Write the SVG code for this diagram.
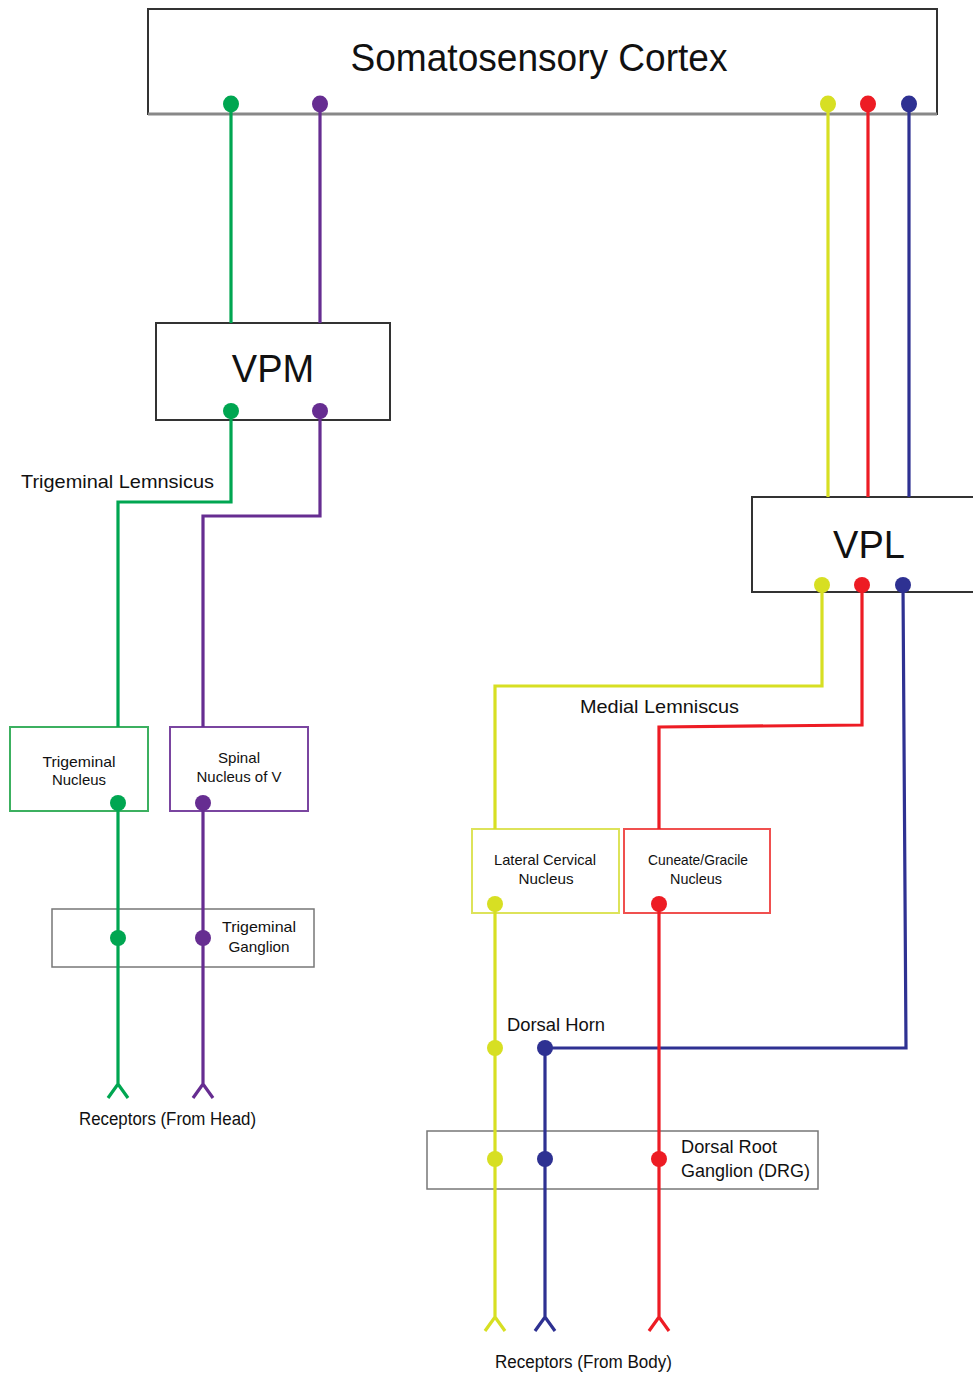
<svg xmlns="http://www.w3.org/2000/svg" width="973" height="1373" viewBox="0 0 973 1373">
<style>
.box{fill:#fff;stroke:#333;stroke-width:2}
.gbox{fill:none;stroke:#777;stroke-width:1.5}
.t{font-family:"Liberation Sans",Arial,sans-serif;fill:#111}
.big{font-size:38px;text-anchor:middle}
.lab{font-size:19px}
.sm{font-size:15px;text-anchor:middle}
.w{fill:none;stroke-width:3.2;stroke-linejoin:miter}
.g{stroke:#00a651}.p{stroke:#662d91}.y{stroke:#d7df23}.r{stroke:#ed1c24}.b{stroke:#2e3192}
.dg{fill:#00a651}.dp{fill:#662d91}.dy{fill:#d7df23}.dr{fill:#ed1c24}.db{fill:#2e3192}
</style>
<rect width="973" height="1373" fill="#fff"/>
<g id="cortex">
<rect class="box" x="148" y="9" width="789" height="105"/>
<line x1="148" y1="114" x2="937" y2="114" stroke="#888" stroke-width="3"/>
<text class="t big" x="539" y="71" textLength="377" lengthAdjust="spacingAndGlyphs">Somatosensory Cortex</text>
</g>
<g id="vpm">
<rect class="box" x="156" y="323" width="234" height="97"/>
<text class="t big" x="273" y="382">VPM</text>
</g>
<g id="vpl">
<rect class="box" x="752" y="497" width="230" height="95"/>
<text class="t big" x="869" y="558">VPL</text>
</g>
<g id="trigeminal-nucleus">
<rect fill="#fff" stroke="#3cb060" stroke-width="2" x="10" y="727" width="138" height="84"/>
<text class="t sm" x="79" y="767" textLength="73" lengthAdjust="spacingAndGlyphs">Trigeminal</text>
<text class="t sm" x="79" y="785" textLength="54" lengthAdjust="spacingAndGlyphs">Nucleus</text>
</g>
<g id="spinal-nucleus">
<rect fill="#fff" stroke="#7a45a0" stroke-width="2" x="170" y="727" width="138" height="84"/>
<text class="t sm" x="239" y="763" textLength="42" lengthAdjust="spacingAndGlyphs">Spinal</text>
<text class="t sm" x="239" y="782" textLength="85" lengthAdjust="spacingAndGlyphs">Nucleus of V</text>
</g>
<g id="trigeminal-ganglion">
<rect class="gbox" x="52" y="909" width="262" height="58"/>
<text class="t sm" x="259" y="932" textLength="74" lengthAdjust="spacingAndGlyphs">Trigeminal</text>
<text class="t sm" x="259" y="952" textLength="61" lengthAdjust="spacingAndGlyphs">Ganglion</text>
</g>
<g id="lateral-cervical">
<rect fill="#fff" stroke="#dde35a" stroke-width="2" x="472" y="829" width="147" height="84"/>
<text class="t sm" x="545" y="865" textLength="102" lengthAdjust="spacingAndGlyphs">Lateral Cervical</text>
<text class="t sm" x="546" y="884" textLength="55" lengthAdjust="spacingAndGlyphs">Nucleus</text>
</g>
<g id="cuneate-gracile">
<rect fill="#fff" stroke="#f0504f" stroke-width="2" x="624" y="829" width="146" height="84"/>
<text class="t sm" x="698" y="865" textLength="100" lengthAdjust="spacingAndGlyphs">Cuneate/Gracile</text>
<text class="t sm" x="696" y="884" textLength="52" lengthAdjust="spacingAndGlyphs">Nucleus</text>
</g>
<g id="drg">
<rect class="gbox" x="427" y="1131" width="391" height="58"/>
<text class="t lab" x="681" y="1153" textLength="96" lengthAdjust="spacingAndGlyphs">Dorsal Root</text>
<text class="t lab" x="681" y="1177" textLength="129" lengthAdjust="spacingAndGlyphs">Ganglion (DRG)</text>
</g>
<g id="labels">
<text class="t lab" x="21" y="488" textLength="193" lengthAdjust="spacingAndGlyphs">Trigeminal Lemnsicus</text>
<text class="t lab" x="580" y="713" textLength="159" lengthAdjust="spacingAndGlyphs">Medial Lemniscus</text>
<text class="t lab" x="507" y="1031" textLength="98" lengthAdjust="spacingAndGlyphs">Dorsal Horn</text>
<text class="t" font-size="18" x="79" y="1125" textLength="177" lengthAdjust="spacingAndGlyphs">Receptors (From Head)</text>
<text class="t" font-size="18" x="495" y="1368" textLength="177" lengthAdjust="spacingAndGlyphs">Receptors (From Body)</text>
</g>
<g id="connectors">
<path class="w g" d="M231 104V323"/>
<path class="w p" d="M320 104V323"/>
<path class="w y" d="M828 104V497"/>
<path class="w r" d="M868 104V497"/>
<path class="w b" d="M909 104V497"/>
<path class="w g" d="M231 411V502H118V727"/>
<path class="w p" d="M320 411V516H203V727"/>
<path class="w g" d="M118 803V1085M108 1098L118 1084L128 1098"/>
<path class="w p" d="M203 803V1085M193 1098L203 1084L213 1098"/>
<path class="w y" d="M822 585V686H495V829"/>
<path class="w r" d="M862 585V725L659 727V829"/>
<path class="w b" d="M903 585L906 1048H545"/>
<path class="w y" d="M495 904V1317M485 1331L495 1317L505 1331"/>
<path class="w b" d="M545 1048V1317M535 1331L545 1317L555 1331"/>
<path class="w r" d="M659 904V1317M649 1331L659 1317L669 1331"/>
</g>
<g id="dots">
<ellipse class="dg" cx="231" cy="104" rx="8" ry="8.5"/>
<ellipse class="dp" cx="320" cy="104" rx="8" ry="8.5"/>
<ellipse class="dy" cx="828" cy="104" rx="8" ry="8.5"/>
<ellipse class="dr" cx="868" cy="104" rx="8" ry="8.5"/>
<ellipse class="db" cx="909" cy="104" rx="8" ry="8.5"/>
<circle class="dg" cx="231" cy="411" r="8"/>
<circle class="dp" cx="320" cy="411" r="8"/>
<circle class="dy" cx="822" cy="585" r="8"/>
<circle class="dr" cx="862" cy="585" r="8"/>
<circle class="db" cx="903" cy="585" r="8"/>
<circle class="dg" cx="118" cy="803" r="8"/>
<circle class="dp" cx="203" cy="803" r="8"/>
<circle class="dg" cx="118" cy="938" r="8"/>
<circle class="dp" cx="203" cy="938" r="8"/>
<circle class="dy" cx="495" cy="904" r="8"/>
<circle class="dr" cx="659" cy="904" r="8"/>
<circle class="dy" cx="495" cy="1048" r="8"/>
<circle class="db" cx="545" cy="1048" r="8"/>
<circle class="dy" cx="495" cy="1159" r="8"/>
<circle class="db" cx="545" cy="1159" r="8"/>
<circle class="dr" cx="659" cy="1159" r="8"/>
</g>
</svg>
